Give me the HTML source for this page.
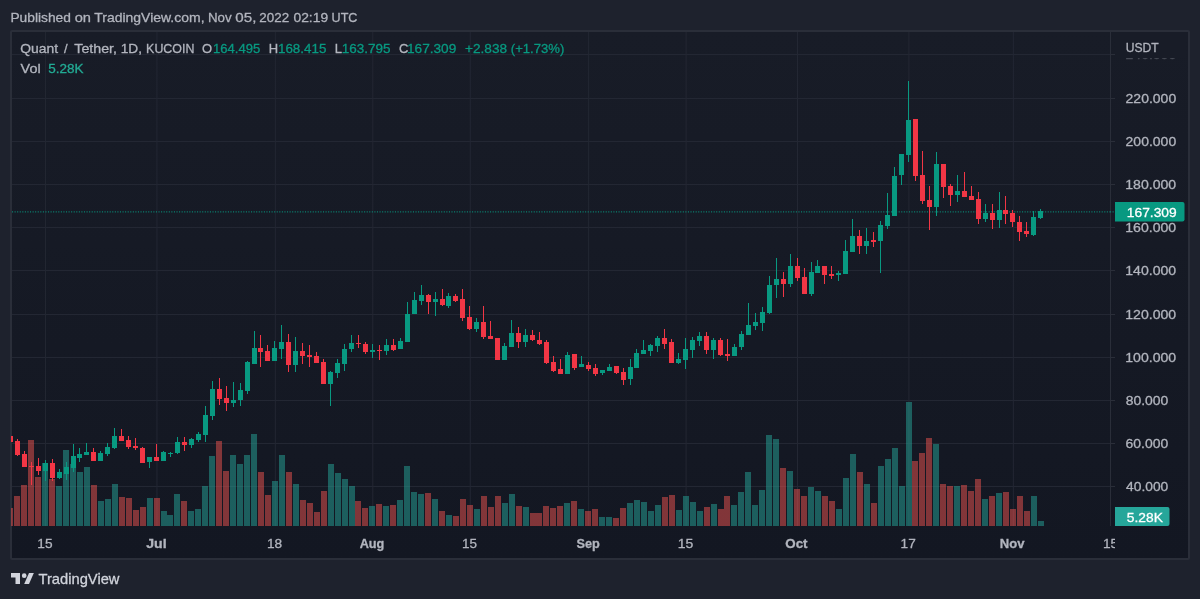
<!DOCTYPE html>
<html><head><meta charset="utf-8"><style>
html,body{margin:0;padding:0;background:#1e222d;width:1200px;height:599px;overflow:hidden}
svg{position:absolute;left:0;top:0;display:block;will-change:transform}
text{font-family:"Liberation Sans",sans-serif}
</style></head><body>
<svg width="1200" height="599" viewBox="0 0 1200 599" shape-rendering="crispEdges">
<rect x="0" y="0" width="1200" height="599" fill="#1e222d"/>
<rect x="10" y="30" width="1180" height="530" rx="2" fill="#2a2e39" shape-rendering="auto"/>
<defs><linearGradient id="bg" x1="0" y1="0" x2="0" y2="1"><stop offset="0" stop-color="#181c27"/><stop offset="1" stop-color="#131722"/></linearGradient><clipPath id="pane"><rect x="11" y="32" width="1099" height="494"/></clipPath><clipPath id="taxis"><rect x="12" y="526" width="1103.1" height="32"/></clipPath></defs><rect x="12" y="32" width="1176" height="526" fill="url(#bg)"/><g fill="#232733"><rect x="12" y="54" width="1098" height="1"/><rect x="12" y="98" width="1098" height="1"/><rect x="12" y="141" width="1098" height="1"/><rect x="12" y="184" width="1098" height="1"/><rect x="12" y="227" width="1098" height="1"/><rect x="12" y="270" width="1098" height="1"/><rect x="12" y="314" width="1098" height="1"/><rect x="12" y="357" width="1098" height="1"/><rect x="12" y="400" width="1098" height="1"/><rect x="12" y="443" width="1098" height="1"/><rect x="12" y="486" width="1098" height="1"/><rect x="45.05" y="32" width="1" height="494" shape-rendering="auto"/><rect x="156.45" y="32" width="1" height="494" shape-rendering="auto"/><rect x="274.81" y="32" width="1" height="494" shape-rendering="auto"/><rect x="372.29" y="32" width="1" height="494" shape-rendering="auto"/><rect x="469.76" y="32" width="1" height="494" shape-rendering="auto"/><rect x="588.13" y="32" width="1" height="494" shape-rendering="auto"/><rect x="685.60" y="32" width="1" height="494" shape-rendering="auto"/><rect x="797.00" y="32" width="1" height="494" shape-rendering="auto"/><rect x="908.40" y="32" width="1" height="494" shape-rendering="auto"/><rect x="1012.84" y="32" width="1" height="494" shape-rendering="auto"/></g><g clip-path="url(#pane)"><g fill="rgba(38,166,154,0.5)"><rect x="42" y="463" width="6" height="63"/><rect x="56" y="486" width="6" height="40"/><rect x="63" y="450" width="6" height="76"/><rect x="70" y="464" width="6" height="62"/><rect x="77" y="472" width="6" height="54"/><rect x="84" y="467" width="6" height="59"/><rect x="98" y="501" width="6" height="25"/><rect x="105" y="499" width="6" height="27"/><rect x="112" y="484" width="6" height="42"/><rect x="147" y="498" width="6" height="28"/><rect x="161" y="511" width="6" height="15"/><rect x="167" y="515" width="6" height="11"/><rect x="174" y="494" width="6" height="32"/><rect x="188" y="511" width="6" height="15"/><rect x="195" y="509" width="6" height="17"/><rect x="202" y="486" width="6" height="40"/><rect x="209" y="456" width="6" height="70"/><rect x="230" y="455" width="6" height="71"/><rect x="237" y="464" width="6" height="62"/><rect x="244" y="455" width="6" height="71"/><rect x="251" y="434" width="6" height="92"/><rect x="272" y="481" width="6" height="45"/><rect x="279" y="455" width="6" height="71"/><rect x="293" y="484" width="6" height="42"/><rect x="328" y="464" width="6" height="62"/><rect x="335" y="473" width="6" height="53"/><rect x="342" y="479" width="6" height="47"/><rect x="349" y="486" width="6" height="40"/><rect x="369" y="506" width="6" height="20"/><rect x="383" y="506" width="6" height="20"/><rect x="397" y="500" width="6" height="26"/><rect x="404" y="466" width="6" height="60"/><rect x="411" y="492" width="6" height="34"/><rect x="418" y="494" width="6" height="32"/><rect x="432" y="499" width="6" height="27"/><rect x="446" y="515" width="6" height="11"/><rect x="474" y="509" width="6" height="17"/><rect x="502" y="503" width="6" height="23"/><rect x="509" y="494" width="6" height="32"/><rect x="523" y="507" width="6" height="19"/><rect x="564" y="503" width="6" height="23"/><rect x="578" y="509" width="6" height="17"/><rect x="599" y="517" width="6" height="9"/><rect x="606" y="517" width="6" height="9"/><rect x="627" y="503" width="6" height="23"/><rect x="634" y="500" width="6" height="26"/><rect x="641" y="502" width="6" height="24"/><rect x="648" y="511" width="6" height="15"/><rect x="655" y="505" width="6" height="21"/><rect x="676" y="510" width="6" height="16"/><rect x="683" y="496" width="6" height="30"/><rect x="690" y="502" width="6" height="24"/><rect x="697" y="511" width="6" height="15"/><rect x="711" y="504" width="6" height="22"/><rect x="731" y="505" width="6" height="21"/><rect x="738" y="492" width="6" height="34"/><rect x="745" y="472" width="6" height="54"/><rect x="752" y="505" width="6" height="21"/><rect x="759" y="490" width="6" height="36"/><rect x="766" y="435" width="6" height="91"/><rect x="773" y="439" width="6" height="87"/><rect x="787" y="471" width="6" height="55"/><rect x="808" y="487" width="6" height="39"/><rect x="815" y="491" width="6" height="35"/><rect x="836" y="509" width="6" height="17"/><rect x="843" y="478" width="6" height="48"/><rect x="850" y="454" width="6" height="72"/><rect x="864" y="484" width="6" height="42"/><rect x="878" y="466" width="6" height="60"/><rect x="885" y="459" width="6" height="67"/><rect x="892" y="448" width="6" height="78"/><rect x="899" y="486" width="6" height="40"/><rect x="906" y="402" width="6" height="124"/><rect x="933" y="444" width="6" height="82"/><rect x="954" y="486" width="6" height="40"/><rect x="982" y="499" width="6" height="27"/><rect x="996" y="493" width="6" height="33"/><rect x="1031" y="496" width="6" height="30"/><rect x="1038" y="521" width="6" height="5"/></g><g fill="rgba(239,83,80,0.5)"><rect x="7" y="508" width="6" height="18"/><rect x="14" y="496" width="6" height="30"/><rect x="21" y="485" width="6" height="41"/><rect x="28" y="440" width="6" height="86"/><rect x="35" y="477" width="6" height="49"/><rect x="49" y="479" width="6" height="47"/><rect x="91" y="485" width="6" height="41"/><rect x="119" y="497" width="6" height="29"/><rect x="126" y="498" width="6" height="28"/><rect x="133" y="510" width="6" height="16"/><rect x="140" y="507" width="6" height="19"/><rect x="154" y="498" width="6" height="28"/><rect x="181" y="501" width="6" height="25"/><rect x="216" y="441" width="6" height="85"/><rect x="223" y="471" width="6" height="55"/><rect x="258" y="472" width="6" height="54"/><rect x="265" y="495" width="6" height="31"/><rect x="286" y="472" width="6" height="54"/><rect x="300" y="500" width="6" height="26"/><rect x="307" y="503" width="6" height="23"/><rect x="314" y="512" width="6" height="14"/><rect x="321" y="491" width="6" height="35"/><rect x="355" y="501" width="6" height="25"/><rect x="362" y="508" width="6" height="18"/><rect x="376" y="504" width="6" height="22"/><rect x="390" y="505" width="6" height="21"/><rect x="425" y="493" width="6" height="33"/><rect x="439" y="511" width="6" height="15"/><rect x="453" y="516" width="6" height="10"/><rect x="460" y="499" width="6" height="27"/><rect x="467" y="505" width="6" height="21"/><rect x="481" y="496" width="6" height="30"/><rect x="488" y="507" width="6" height="19"/><rect x="495" y="496" width="6" height="30"/><rect x="516" y="506" width="6" height="20"/><rect x="530" y="513" width="6" height="13"/><rect x="536" y="513" width="6" height="13"/><rect x="543" y="506" width="6" height="20"/><rect x="550" y="508" width="6" height="18"/><rect x="557" y="506" width="6" height="20"/><rect x="571" y="501" width="6" height="25"/><rect x="585" y="511" width="6" height="15"/><rect x="592" y="509" width="6" height="17"/><rect x="613" y="518" width="6" height="8"/><rect x="620" y="508" width="6" height="18"/><rect x="662" y="497" width="6" height="29"/><rect x="669" y="495" width="6" height="31"/><rect x="704" y="507" width="6" height="19"/><rect x="718" y="509" width="6" height="17"/><rect x="724" y="496" width="6" height="30"/><rect x="780" y="468" width="6" height="58"/><rect x="794" y="489" width="6" height="37"/><rect x="801" y="496" width="6" height="30"/><rect x="822" y="496" width="6" height="30"/><rect x="829" y="501" width="6" height="25"/><rect x="857" y="472" width="6" height="54"/><rect x="871" y="503" width="6" height="23"/><rect x="912" y="461" width="6" height="65"/><rect x="919" y="453" width="6" height="73"/><rect x="926" y="438" width="6" height="88"/><rect x="940" y="484" width="6" height="42"/><rect x="947" y="486" width="6" height="40"/><rect x="961" y="485" width="6" height="41"/><rect x="968" y="491" width="6" height="35"/><rect x="975" y="479" width="6" height="47"/><rect x="989" y="496" width="6" height="30"/><rect x="1003" y="492" width="6" height="34"/><rect x="1010" y="509" width="6" height="17"/><rect x="1017" y="496" width="6" height="30"/><rect x="1024" y="511" width="6" height="15"/></g><line x1="12" y1="211.9" x2="1114" y2="211.9" stroke="#089981" stroke-width="1" stroke-dasharray="1.1 1.47" shape-rendering="auto"/><g fill="#089981"><rect x="45" y="460" width="1" height="21"/><rect x="43" y="463" width="5" height="8"/><rect x="59" y="469" width="1" height="10"/><rect x="57" y="472" width="5" height="6"/><rect x="66" y="462" width="1" height="18"/><rect x="64" y="467" width="5" height="7"/><rect x="73" y="444" width="1" height="28"/><rect x="71" y="456" width="5" height="12"/><rect x="79" y="448" width="1" height="14"/><rect x="77" y="454" width="5" height="4"/><rect x="86" y="443" width="1" height="12"/><rect x="84" y="452" width="5" height="3"/><rect x="100" y="451" width="1" height="10"/><rect x="98" y="453" width="5" height="8"/><rect x="107" y="443" width="1" height="13"/><rect x="105" y="447" width="5" height="7"/><rect x="114" y="428" width="1" height="21"/><rect x="112" y="436" width="5" height="12"/><rect x="149" y="457" width="1" height="11"/><rect x="147" y="457" width="5" height="5"/><rect x="163" y="451" width="1" height="10"/><rect x="161" y="452" width="5" height="9"/><rect x="170" y="452" width="1" height="5"/><rect x="168" y="453" width="5" height="1"/><rect x="177" y="437" width="1" height="17"/><rect x="175" y="442" width="5" height="11"/><rect x="191" y="438" width="1" height="10"/><rect x="189" y="439" width="5" height="6"/><rect x="198" y="432" width="1" height="10"/><rect x="196" y="434" width="5" height="6"/><rect x="205" y="406" width="1" height="36"/><rect x="203" y="415" width="5" height="20"/><rect x="212" y="381" width="1" height="39"/><rect x="210" y="389" width="5" height="27"/><rect x="233" y="382" width="1" height="25"/><rect x="231" y="400" width="5" height="3"/><rect x="240" y="383" width="1" height="23"/><rect x="238" y="390" width="5" height="10"/><rect x="247" y="361" width="1" height="33"/><rect x="245" y="362" width="5" height="29"/><rect x="254" y="331" width="1" height="33"/><rect x="252" y="348" width="5" height="16"/><rect x="274" y="341" width="1" height="20"/><rect x="272" y="348" width="5" height="13"/><rect x="281" y="325" width="1" height="34"/><rect x="279" y="342" width="5" height="7"/><rect x="295" y="337" width="1" height="35"/><rect x="293" y="351" width="5" height="14"/><rect x="330" y="371" width="1" height="35"/><rect x="328" y="372" width="5" height="12"/><rect x="337" y="359" width="1" height="19"/><rect x="335" y="363" width="5" height="10"/><rect x="344" y="344" width="1" height="27"/><rect x="342" y="349" width="5" height="15"/><rect x="351" y="335" width="1" height="17"/><rect x="349" y="343" width="5" height="6"/><rect x="372" y="344" width="1" height="14"/><rect x="370" y="350" width="5" height="2"/><rect x="386" y="339" width="1" height="16"/><rect x="384" y="345" width="5" height="6"/><rect x="400" y="338" width="1" height="11"/><rect x="398" y="341" width="5" height="8"/><rect x="407" y="302" width="1" height="40"/><rect x="405" y="314" width="5" height="28"/><rect x="414" y="292" width="1" height="22"/><rect x="412" y="300" width="5" height="14"/><rect x="421" y="285" width="1" height="20"/><rect x="419" y="295" width="5" height="6"/><rect x="435" y="292" width="1" height="24"/><rect x="433" y="299" width="5" height="3"/><rect x="448" y="293" width="1" height="15"/><rect x="446" y="296" width="5" height="10"/><rect x="476" y="318" width="1" height="14"/><rect x="474" y="322" width="5" height="7"/><rect x="504" y="343" width="1" height="17"/><rect x="502" y="346" width="5" height="14"/><rect x="511" y="320" width="1" height="27"/><rect x="509" y="333" width="5" height="14"/><rect x="525" y="329" width="1" height="18"/><rect x="523" y="335" width="5" height="7"/><rect x="567" y="352" width="1" height="22"/><rect x="565" y="355" width="5" height="19"/><rect x="581" y="356" width="1" height="11"/><rect x="579" y="364" width="5" height="3"/><rect x="602" y="370" width="1" height="5"/><rect x="600" y="370" width="5" height="3"/><rect x="609" y="364" width="1" height="7"/><rect x="607" y="367" width="5" height="4"/><rect x="630" y="359" width="1" height="26"/><rect x="628" y="367" width="5" height="12"/><rect x="636" y="349" width="1" height="19"/><rect x="634" y="353" width="5" height="15"/><rect x="643" y="340" width="1" height="14"/><rect x="641" y="350" width="5" height="4"/><rect x="650" y="344" width="1" height="12"/><rect x="648" y="345" width="5" height="6"/><rect x="657" y="336" width="1" height="16"/><rect x="655" y="338" width="5" height="8"/><rect x="678" y="353" width="1" height="11"/><rect x="676" y="359" width="5" height="4"/><rect x="685" y="338" width="1" height="31"/><rect x="683" y="349" width="5" height="11"/><rect x="692" y="337" width="1" height="21"/><rect x="690" y="340" width="5" height="10"/><rect x="699" y="332" width="1" height="14"/><rect x="697" y="336" width="5" height="5"/><rect x="713" y="338" width="1" height="21"/><rect x="711" y="340" width="5" height="10"/><rect x="734" y="344" width="1" height="12"/><rect x="732" y="347" width="5" height="9"/><rect x="741" y="331" width="1" height="19"/><rect x="739" y="334" width="5" height="13"/><rect x="748" y="303" width="1" height="32"/><rect x="746" y="325" width="5" height="10"/><rect x="755" y="313" width="1" height="17"/><rect x="753" y="322" width="5" height="4"/><rect x="762" y="307" width="1" height="24"/><rect x="760" y="312" width="5" height="11"/><rect x="769" y="276" width="1" height="38"/><rect x="767" y="285" width="5" height="28"/><rect x="776" y="258" width="1" height="40"/><rect x="774" y="279" width="5" height="6"/><rect x="790" y="254" width="1" height="33"/><rect x="788" y="266" width="5" height="18"/><rect x="811" y="262" width="1" height="34"/><rect x="809" y="272" width="5" height="22"/><rect x="817" y="260" width="1" height="13"/><rect x="815" y="266" width="5" height="7"/><rect x="838" y="271" width="1" height="10"/><rect x="836" y="273" width="5" height="2"/><rect x="845" y="240" width="1" height="34"/><rect x="843" y="251" width="5" height="23"/><rect x="852" y="219" width="1" height="33"/><rect x="850" y="236" width="5" height="16"/><rect x="866" y="228" width="1" height="26"/><rect x="864" y="241" width="5" height="5"/><rect x="880" y="221" width="1" height="52"/><rect x="878" y="225" width="5" height="16"/><rect x="887" y="193" width="1" height="36"/><rect x="885" y="215" width="5" height="11"/><rect x="894" y="167" width="1" height="49"/><rect x="892" y="176" width="5" height="40"/><rect x="901" y="154" width="1" height="31"/><rect x="899" y="154" width="5" height="21"/><rect x="908" y="81" width="1" height="81"/><rect x="906" y="120" width="5" height="35"/><rect x="936" y="152" width="1" height="64"/><rect x="934" y="164" width="5" height="43"/><rect x="957" y="175" width="1" height="27"/><rect x="955" y="191" width="5" height="4"/><rect x="985" y="204" width="1" height="18"/><rect x="983" y="213" width="5" height="6"/><rect x="999" y="192" width="1" height="36"/><rect x="997" y="210" width="5" height="10"/><rect x="1033" y="211" width="1" height="25"/><rect x="1031" y="217" width="5" height="18"/><rect x="1040" y="209" width="1" height="10"/><rect x="1038" y="211" width="5" height="7"/></g><g fill="#f23645"><rect x="10" y="436" width="1" height="6"/><rect x="8" y="436" width="5" height="6"/><rect x="17" y="439" width="1" height="17"/><rect x="15" y="441" width="5" height="14"/><rect x="24" y="451" width="1" height="16"/><rect x="22" y="454" width="5" height="13"/><rect x="31" y="462" width="1" height="23"/><rect x="29" y="466" width="5" height="1"/><rect x="38" y="458" width="1" height="17"/><rect x="36" y="466" width="5" height="5"/><rect x="52" y="459" width="1" height="22"/><rect x="50" y="463" width="5" height="15"/><rect x="93" y="448" width="1" height="13"/><rect x="91" y="452" width="5" height="9"/><rect x="121" y="429" width="1" height="12"/><rect x="119" y="436" width="5" height="5"/><rect x="128" y="436" width="1" height="13"/><rect x="126" y="440" width="5" height="7"/><rect x="135" y="438" width="1" height="12"/><rect x="133" y="446" width="5" height="2"/><rect x="142" y="447" width="1" height="16"/><rect x="140" y="448" width="5" height="15"/><rect x="156" y="444" width="1" height="17"/><rect x="154" y="457" width="5" height="4"/><rect x="184" y="437" width="1" height="14"/><rect x="182" y="442" width="5" height="3"/><rect x="219" y="378" width="1" height="27"/><rect x="217" y="389" width="5" height="10"/><rect x="226" y="386" width="1" height="25"/><rect x="224" y="398" width="5" height="5"/><rect x="260" y="335" width="1" height="32"/><rect x="258" y="348" width="5" height="4"/><rect x="267" y="345" width="1" height="16"/><rect x="265" y="351" width="5" height="10"/><rect x="288" y="334" width="1" height="38"/><rect x="286" y="342" width="5" height="23"/><rect x="302" y="343" width="1" height="21"/><rect x="300" y="351" width="5" height="5"/><rect x="309" y="345" width="1" height="22"/><rect x="307" y="355" width="5" height="2"/><rect x="316" y="352" width="1" height="11"/><rect x="314" y="356" width="5" height="7"/><rect x="323" y="359" width="1" height="25"/><rect x="321" y="362" width="5" height="22"/><rect x="358" y="335" width="1" height="13"/><rect x="356" y="343" width="5" height="1"/><rect x="365" y="342" width="1" height="12"/><rect x="363" y="344" width="5" height="8"/><rect x="379" y="345" width="1" height="15"/><rect x="377" y="350" width="5" height="1"/><rect x="393" y="339" width="1" height="12"/><rect x="391" y="345" width="5" height="5"/><rect x="428" y="294" width="1" height="20"/><rect x="426" y="295" width="5" height="7"/><rect x="442" y="289" width="1" height="17"/><rect x="440" y="299" width="5" height="6"/><rect x="455" y="294" width="1" height="8"/><rect x="453" y="296" width="5" height="5"/><rect x="462" y="289" width="1" height="32"/><rect x="460" y="299" width="5" height="19"/><rect x="469" y="306" width="1" height="24"/><rect x="467" y="317" width="5" height="12"/><rect x="483" y="306" width="1" height="33"/><rect x="481" y="322" width="5" height="15"/><rect x="490" y="321" width="1" height="18"/><rect x="488" y="336" width="5" height="3"/><rect x="497" y="338" width="1" height="22"/><rect x="495" y="338" width="5" height="22"/><rect x="518" y="327" width="1" height="21"/><rect x="516" y="333" width="5" height="9"/><rect x="532" y="330" width="1" height="11"/><rect x="530" y="335" width="5" height="5"/><rect x="539" y="332" width="1" height="13"/><rect x="537" y="340" width="5" height="4"/><rect x="546" y="340" width="1" height="24"/><rect x="544" y="342" width="5" height="21"/><rect x="553" y="356" width="1" height="16"/><rect x="551" y="362" width="5" height="9"/><rect x="560" y="359" width="1" height="15"/><rect x="558" y="369" width="5" height="5"/><rect x="574" y="354" width="1" height="16"/><rect x="572" y="354" width="5" height="14"/><rect x="588" y="362" width="1" height="9"/><rect x="586" y="365" width="5" height="4"/><rect x="595" y="364" width="1" height="12"/><rect x="593" y="368" width="5" height="6"/><rect x="616" y="366" width="1" height="8"/><rect x="614" y="366" width="5" height="7"/><rect x="623" y="368" width="1" height="17"/><rect x="621" y="372" width="5" height="8"/><rect x="664" y="329" width="1" height="20"/><rect x="662" y="338" width="5" height="6"/><rect x="671" y="339" width="1" height="24"/><rect x="669" y="342" width="5" height="21"/><rect x="706" y="332" width="1" height="22"/><rect x="704" y="336" width="5" height="14"/><rect x="720" y="338" width="1" height="18"/><rect x="718" y="340" width="5" height="15"/><rect x="727" y="339" width="1" height="22"/><rect x="725" y="354" width="5" height="2"/><rect x="783" y="272" width="1" height="25"/><rect x="781" y="279" width="5" height="5"/><rect x="797" y="258" width="1" height="23"/><rect x="795" y="266" width="5" height="12"/><rect x="804" y="268" width="1" height="26"/><rect x="802" y="277" width="5" height="17"/><rect x="824" y="266" width="1" height="18"/><rect x="822" y="266" width="5" height="9"/><rect x="831" y="266" width="1" height="13"/><rect x="829" y="274" width="5" height="2"/><rect x="859" y="230" width="1" height="24"/><rect x="857" y="236" width="5" height="10"/><rect x="873" y="232" width="1" height="15"/><rect x="871" y="240" width="5" height="2"/><rect x="915" y="119" width="1" height="62"/><rect x="913" y="119" width="5" height="57"/><rect x="922" y="151" width="1" height="53"/><rect x="920" y="175" width="5" height="26"/><rect x="929" y="186" width="1" height="44"/><rect x="927" y="200" width="5" height="7"/><rect x="943" y="164" width="1" height="34"/><rect x="941" y="164" width="5" height="23"/><rect x="950" y="184" width="1" height="22"/><rect x="948" y="186" width="5" height="9"/><rect x="964" y="172" width="1" height="25"/><rect x="962" y="191" width="5" height="6"/><rect x="971" y="186" width="1" height="14"/><rect x="969" y="196" width="5" height="4"/><rect x="978" y="192" width="1" height="32"/><rect x="976" y="199" width="5" height="20"/><rect x="992" y="204" width="1" height="25"/><rect x="990" y="213" width="5" height="7"/><rect x="1005" y="196" width="1" height="28"/><rect x="1003" y="210" width="5" height="4"/><rect x="1012" y="210" width="1" height="17"/><rect x="1010" y="213" width="5" height="9"/><rect x="1019" y="216" width="1" height="25"/><rect x="1017" y="222" width="5" height="10"/><rect x="1026" y="222" width="1" height="15"/><rect x="1024" y="231" width="5" height="3"/></g></g><rect x="1110" y="32" width="1" height="494" fill="#2a2e39"/><g fill="#2a2e39"><rect x="1111" y="54" width="4" height="1"/><rect x="1111" y="98" width="4" height="1"/><rect x="1111" y="141" width="4" height="1"/><rect x="1111" y="184" width="4" height="1"/><rect x="1111" y="227" width="4" height="1"/><rect x="1111" y="270" width="4" height="1"/><rect x="1111" y="314" width="4" height="1"/><rect x="1111" y="357" width="4" height="1"/><rect x="1111" y="400" width="4" height="1"/><rect x="1111" y="443" width="4" height="1"/><rect x="1111" y="486" width="4" height="1"/></g><line x1="1110" y1="211.9" x2="1114" y2="211.9" stroke="#089981" stroke-width="1" stroke-dasharray="1.1 1.47" shape-rendering="auto"/><text x="1125.60" y="59.20" font-size="13.3" fill="#b2b5be" stroke="#b2b5be" stroke-width="0.3" textLength="50.59" lengthAdjust="spacingAndGlyphs" opacity="0.3">240.000</text><text x="1125.60" y="103.20" font-size="13.3" fill="#b2b5be" stroke="#b2b5be" stroke-width="0.3" textLength="50.59" lengthAdjust="spacingAndGlyphs">220.000</text><text x="1125.60" y="146.20" font-size="13.3" fill="#b2b5be" stroke="#b2b5be" stroke-width="0.3" textLength="50.59" lengthAdjust="spacingAndGlyphs">200.000</text><text x="1125.24" y="189.20" font-size="13.3" fill="#b2b5be" stroke="#b2b5be" stroke-width="0.3" textLength="50.95" lengthAdjust="spacingAndGlyphs">180.000</text><text x="1125.24" y="232.20" font-size="13.3" fill="#b2b5be" stroke="#b2b5be" stroke-width="0.3" textLength="50.95" lengthAdjust="spacingAndGlyphs">160.000</text><text x="1125.24" y="275.20" font-size="13.3" fill="#b2b5be" stroke="#b2b5be" stroke-width="0.3" textLength="50.95" lengthAdjust="spacingAndGlyphs">140.000</text><text x="1125.24" y="319.20" font-size="13.3" fill="#b2b5be" stroke="#b2b5be" stroke-width="0.3" textLength="50.95" lengthAdjust="spacingAndGlyphs">120.000</text><text x="1125.24" y="362.20" font-size="13.3" fill="#b2b5be" stroke="#b2b5be" stroke-width="0.3" textLength="50.95" lengthAdjust="spacingAndGlyphs">100.000</text><text x="1125.67" y="405.20" font-size="13.3" fill="#b2b5be" stroke="#b2b5be" stroke-width="0.3" textLength="42.60" lengthAdjust="spacingAndGlyphs">80.000</text><text x="1125.60" y="448.20" font-size="13.3" fill="#b2b5be" stroke="#b2b5be" stroke-width="0.3" textLength="42.67" lengthAdjust="spacingAndGlyphs">60.000</text><text x="1126.02" y="491.20" font-size="13.3" fill="#b2b5be" stroke="#b2b5be" stroke-width="0.3" textLength="42.24" lengthAdjust="spacingAndGlyphs">40.000</text><rect x="1115" y="33" width="70" height="25" fill="#181c27"/><text x="1125.79" y="52.00" font-size="13.7" fill="#b2b5be" stroke="#b2b5be" stroke-width="0.3" textLength="32.98" lengthAdjust="spacingAndGlyphs">USDT</text><path d="M1115 202 H1182.5 A2 2 0 0 1 1184.5 204 V219.6 A2 2 0 0 1 1182.5 221.6 H1115 Z" fill="#089981" shape-rendering="auto"/><text x="1126.87" y="217.40" font-size="13.3" fill="#ffffff" stroke="#ffffff" stroke-width="0.3" textLength="49.85" lengthAdjust="spacingAndGlyphs">167.309</text><path d="M1115 507 H1167.5 A2 2 0 0 1 1169.5 509 V524 A2 2 0 0 1 1167.5 526 H1115 Z" fill="#26a69a" shape-rendering="auto"/><text x="1126.85" y="522.40" font-size="13.3" fill="#ffffff" stroke="#ffffff" stroke-width="0.3" textLength="36.04" lengthAdjust="spacingAndGlyphs">5.28K</text><g clip-path="url(#taxis)"><text x="37.37" y="547.60" font-size="12.8" fill="#b2b5be" stroke="#b2b5be" stroke-width="0.3" textLength="15.20" lengthAdjust="spacingAndGlyphs">15</text><text x="146.19" y="547.60" font-size="12.8" fill="#b2b5be" stroke="#b2b5be" stroke-width="0.3" textLength="20.40" lengthAdjust="spacingAndGlyphs" font-weight="bold">Jul</text><text x="266.97" y="547.60" font-size="12.8" fill="#b2b5be" stroke="#b2b5be" stroke-width="0.3" textLength="15.20" lengthAdjust="spacingAndGlyphs">18</text><text x="359.68" y="547.60" font-size="12.8" fill="#b2b5be" stroke="#b2b5be" stroke-width="0.3" textLength="24.73" lengthAdjust="spacingAndGlyphs" font-weight="bold">Aug</text><text x="461.99" y="547.60" font-size="12.8" fill="#b2b5be" stroke="#b2b5be" stroke-width="0.3" textLength="14.98" lengthAdjust="spacingAndGlyphs">15</text><text x="576.52" y="547.60" font-size="12.8" fill="#b2b5be" stroke="#b2b5be" stroke-width="0.3" textLength="23.38" lengthAdjust="spacingAndGlyphs" font-weight="bold">Sep</text><text x="677.65" y="547.60" font-size="12.8" fill="#b2b5be" stroke="#b2b5be" stroke-width="0.3" textLength="15.54" lengthAdjust="spacingAndGlyphs">15</text><text x="785.27" y="547.60" font-size="12.8" fill="#b2b5be" stroke="#b2b5be" stroke-width="0.3" textLength="22.30" lengthAdjust="spacingAndGlyphs" font-weight="bold">Oct</text><text x="900.58" y="547.60" font-size="12.8" fill="#b2b5be" stroke="#b2b5be" stroke-width="0.3" textLength="15.13" lengthAdjust="spacingAndGlyphs">17</text><text x="999.75" y="547.60" font-size="12.8" fill="#b2b5be" stroke="#b2b5be" stroke-width="0.3" textLength="24.71" lengthAdjust="spacingAndGlyphs" font-weight="bold">Nov</text><text x="1102.97" y="547.60" font-size="12.8" fill="#b2b5be" stroke="#b2b5be" stroke-width="0.3" textLength="15.20" lengthAdjust="spacingAndGlyphs">15</text></g>
<g shape-rendering="auto"><text x="10.40" y="22.00" font-size="13.65" fill="#b2b5be" stroke="#b2b5be" stroke-width="0.3" textLength="60.53" lengthAdjust="spacingAndGlyphs">Published</text><text x="74.66" y="22.00" font-size="13.65" fill="#b2b5be" stroke="#b2b5be" stroke-width="0.3" textLength="16.33" lengthAdjust="spacingAndGlyphs">on</text><text x="94.22" y="22.00" font-size="13.65" fill="#b2b5be" stroke="#b2b5be" stroke-width="0.3" textLength="110.31" lengthAdjust="spacingAndGlyphs">TradingView.com,</text><text x="207.93" y="22.00" font-size="13.65" fill="#b2b5be" stroke="#b2b5be" stroke-width="0.3" textLength="23.71" lengthAdjust="spacingAndGlyphs">Nov</text><text x="235.29" y="22.00" font-size="13.65" fill="#b2b5be" stroke="#b2b5be" stroke-width="0.3" textLength="21.07" lengthAdjust="spacingAndGlyphs">05,</text><text x="259.33" y="22.00" font-size="13.65" fill="#b2b5be" stroke="#b2b5be" stroke-width="0.3" textLength="29.84" lengthAdjust="spacingAndGlyphs">2022</text><text x="293.45" y="22.00" font-size="13.65" fill="#b2b5be" stroke="#b2b5be" stroke-width="0.3" textLength="34.71" lengthAdjust="spacingAndGlyphs">02:19</text><text x="331.56" y="22.00" font-size="13.65" fill="#b2b5be" stroke="#b2b5be" stroke-width="0.3" textLength="25.89" lengthAdjust="spacingAndGlyphs">UTC</text><text x="20.17" y="53.20" font-size="13" fill="#b2b5be" stroke="#b2b5be" stroke-width="0.3" textLength="37.85" lengthAdjust="spacingAndGlyphs">Quant</text><text x="64.00" y="53.20" font-size="13" fill="#b2b5be" stroke="#b2b5be" stroke-width="0.3" textLength="3.61" lengthAdjust="spacingAndGlyphs">/</text><text x="74.32" y="53.20" font-size="13" fill="#b2b5be" stroke="#b2b5be" stroke-width="0.3" textLength="42.72" lengthAdjust="spacingAndGlyphs">Tether,</text><text x="120.67" y="53.20" font-size="13" fill="#b2b5be" stroke="#b2b5be" stroke-width="0.3" textLength="21.31" lengthAdjust="spacingAndGlyphs">1D,</text><text x="146.11" y="53.20" font-size="13" fill="#b2b5be" stroke="#b2b5be" stroke-width="0.3" textLength="48.24" lengthAdjust="spacingAndGlyphs">KUCOIN</text><text x="201.92" y="53.20" font-size="13" fill="#b2b5be" stroke="#b2b5be" stroke-width="0.3" textLength="10.11" lengthAdjust="spacingAndGlyphs">O</text><text x="213.02" y="53.20" font-size="13" fill="#089981" stroke="#089981" stroke-width="0.3" textLength="47.20" lengthAdjust="spacingAndGlyphs">164.495</text><text x="268.66" y="53.20" font-size="13" fill="#b2b5be" stroke="#b2b5be" stroke-width="0.3" textLength="9.39" lengthAdjust="spacingAndGlyphs">H</text><text x="278.00" y="53.20" font-size="13" fill="#089981" stroke="#089981" stroke-width="0.3" textLength="48.34" lengthAdjust="spacingAndGlyphs">168.415</text><text x="334.86" y="53.20" font-size="13" fill="#b2b5be" stroke="#b2b5be" stroke-width="0.3" textLength="7.22" lengthAdjust="spacingAndGlyphs">L</text><text x="341.79" y="53.20" font-size="13" fill="#089981" stroke="#089981" stroke-width="0.3" textLength="48.75" lengthAdjust="spacingAndGlyphs">163.795</text><text x="399.05" y="53.20" font-size="13" fill="#b2b5be" stroke="#b2b5be" stroke-width="0.3" textLength="9.39" lengthAdjust="spacingAndGlyphs">C</text><text x="406.98" y="53.20" font-size="13" fill="#089981" stroke="#089981" stroke-width="0.3" textLength="49.34" lengthAdjust="spacingAndGlyphs">167.309</text><text x="465.02" y="53.20" font-size="13" fill="#089981" stroke="#089981" stroke-width="0.3" textLength="42.05" lengthAdjust="spacingAndGlyphs">+2.838</text><text x="510.81" y="53.20" font-size="13" fill="#089981" stroke="#089981" stroke-width="0.3" textLength="53.58" lengthAdjust="spacingAndGlyphs">(+1.73%)</text><text x="20.63" y="72.70" font-size="13" fill="#b2b5be" stroke="#b2b5be" stroke-width="0.3" textLength="20.01" lengthAdjust="spacingAndGlyphs">Vol</text><text x="48.16" y="72.70" font-size="13" fill="#22ab94" stroke="#22ab94" stroke-width="0.3" textLength="35.32" lengthAdjust="spacingAndGlyphs">5.28K</text></g>
<g fill="#d1d4dc" shape-rendering="auto">
<path d="M11 572.9 H20 V584.1 H15.5 V577.5 H11 Z"/>
<circle cx="24.2" cy="575.7" r="2.33"/>
<path d="M29 572.9 H33.85 L29 584.1 H24.2 Z"/>
<text x="38.51" y="584.00" font-size="15" fill="#d1d4dc" stroke="#d1d4dc" stroke-width="0.3" textLength="80.97" lengthAdjust="spacingAndGlyphs">TradingView</text>
</g>
</svg>
</body></html>
